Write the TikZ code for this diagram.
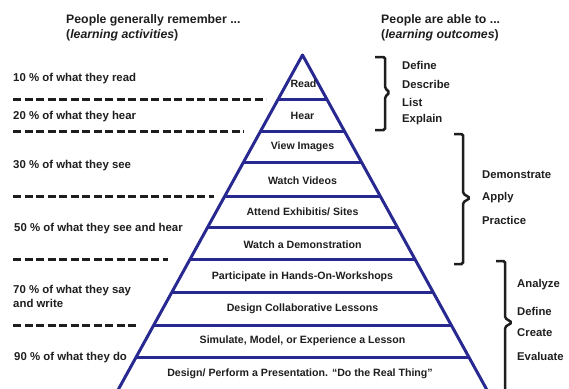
\documentclass[tikz,border=0pt]{standalone}
\usepackage{fontspec}
\setmainfont{Liberation Sans}
\definecolor{navy}{RGB}{40,40,145}
\definecolor{ink}{RGB}{30,30,30}
\begin{document}
\begin{tikzpicture}[x=1pt,y=-1pt,
  edge/.style={draw=navy, line width=3pt, line join=round},
  tier/.style={draw=navy, line width=3pt},
  level/.style={draw=ink, line width=3pt, dash pattern=on 8pt off 3.5pt},
  brace/.style={draw=ink, line width=2.5pt, rounded corners=1.5pt},
  head/.style={font=\bfseries\fontsize{12.3}{15}\selectfont, text=ink, anchor=west, inner sep=0pt},
  lbl/.style={font=\bfseries\fontsize{11.4}{14}\selectfont, text=ink, anchor=west, inner sep=0pt, align=left},
  outc/.style={font=\bfseries\fontsize{11.3}{14}\selectfont, text=ink, anchor=west, inner sep=0pt},
  tierlbl/.style={font=\bfseries\fontsize{10.6}{13}\selectfont, text=ink, inner sep=0pt}]
\clip (0,0) rectangle (569,388);
\useasboundingbox (0,0) rectangle (569,388);

% column headings
\node[head] (hl1) at (66,20) {People generally remember ...};
\node[head] (hl2) at (66,35) {(\textit{learning activities})};
\node[head] (hr1) at (381,20) {People are able to ...};
\node[head] (hr2) at (381,35) {(\textit{learning outcomes})};

% pyramid outline
\coordinate (apex) at (302.5,55);
\coordinate (baseL) at (112.5,400);
\coordinate (baseR) at (492.5,400);
\draw[edge] (baseL) -- (apex) -- (baseR);
\foreach \y in {99,131,162,196,227,259,292,325,357}
  \draw[tier] ({302.5-0.551*(\y-55)},\y) -- ({302.5+0.551*(\y-55)},\y);

% activities inside the pyramid
\node[tierlbl] (t1) at (303.5,84) {Read};
\node[tierlbl] (t2) at (302.5,115.5) {Hear};
\node[tierlbl] (t3) at (302.5,147) {View Images};
\node[tierlbl] (t4) at (302.5,181) {Watch Videos};
\node[tierlbl] (t5) at (302.5,212) {Attend Exhibitis/ Sites};
\node[tierlbl] (t6) at (302.5,244.5) {Watch a Demonstration};
\node[tierlbl] (t7) at (302.5,277) {Participate in Hands-On-Workshops};
\node[tierlbl] (t8) at (302.5,309) {Design Collaborative Lessons};
\node[tierlbl] (t9) at (302.5,341) {Simulate, Model, or Experience a Lesson};
\node[tierlbl] (t10) at (300,374) {Design/ Perform a Presentation. “Do the Real Thing”};

% retention levels on the left
\node[lbl] (p10) at (13,78.5) {10 \% of what they read};
\node[lbl] (p20) at (13,117) {20 \% of what they hear};
\node[lbl] (p30) at (13,166) {30 \% of what they see};
\node[lbl] (p50) at (14,229) {50 \% of what they see and hear};
\node[lbl] (p70) at (13,296) {70 \% of what they say\\and write};
\node[lbl] (p90) at (14,358) {90 \% of what they do};

\coordinate (d1a) at (13,99);  \coordinate (d1b) at (266,99);
\coordinate (d2a) at (13,131); \coordinate (d2b) at (244,131);
\coordinate (d3a) at (13,196); \coordinate (d3b) at (214,196);
\coordinate (d4a) at (13,259); \coordinate (d4b) at (168,259);
\coordinate (d5a) at (13,325); \coordinate (d5b) at (138,325);
\draw[level] (d1a) -- (d1b);
\draw[level] (d2a) -- (d2b);
\draw[level] (d3a) -- (d3b);
\draw[level] (d4a) -- (d4b);
\draw[level] (d5a) -- (d5b);

% braces grouping the outcomes
\draw[brace] (375,57) -- (385,57) -- (385,88) -- (389.5,92.5) -- (385,97) -- (385,130) -- (375,130);
\draw[brace] (454,134) -- (463,134) -- (463,193.5) -- (470,198) -- (463,202.5) -- (463,264) -- (454,264);
\draw[brace] (496,261) -- (505,261) -- (505,318) -- (512,322.5) -- (505,327) -- (505,395);

% learning outcomes
\node[outc] (o1) at (402,65) {Define};
\node[outc] (o2) at (402,84) {Describe};
\node[outc] (o3) at (402,102) {List};
\node[outc] (o4) at (402,120) {Explain};
\node[outc] (o5) at (482,175) {Demonstrate};
\node[outc] (o6) at (482,198) {Apply};
\node[outc] (o7) at (482,220) {Practice};
\node[outc] (o8) at (517,285) {Analyze};
\node[outc] (o9) at (517,311) {Define};
\node[outc] (o10) at (517,333) {Create};
\node[outc] (o11) at (517,356) {Evaluate};
\end{tikzpicture}
\end{document}
